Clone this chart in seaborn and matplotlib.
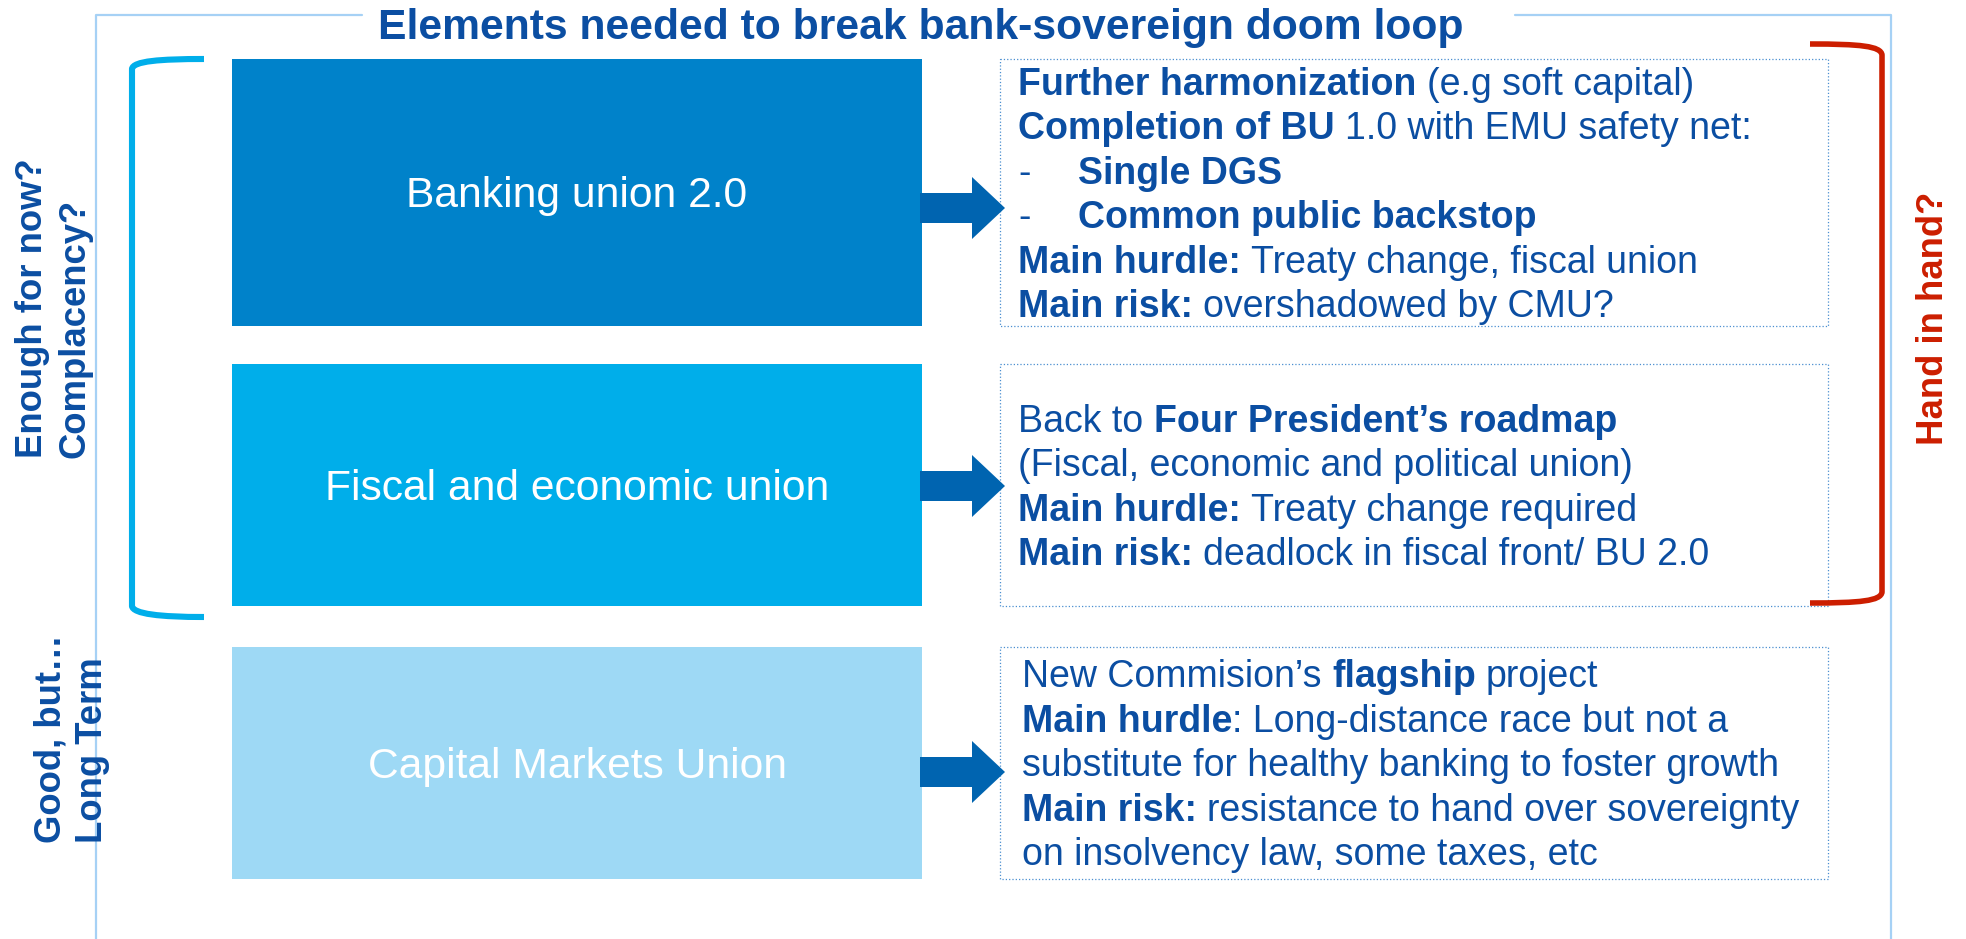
import matplotlib
matplotlib.use("Agg")
import matplotlib.pyplot as plt
import matplotlib.patches as mpatches
from matplotlib.path import Path
import seaborn as sns

sns.set_theme(style="white")
plt.rcParams['font.family'] = ['Liberation Sans', 'DejaVu Sans']

###############################################################################
## content

title = "Elements needed to break bank-sovereign doom loop"
pillars = ["Banking union 2.0", "Fiscal and economic union", "Capital Markets Union"]
left_notes = [["Enough for now?", "Complacency?"], ["Good, but…", "Long Term"]]
right_note = "Hand in hand?"

# one list per line, (text, bold); leading space = word gap, "\t" = bullet indent
bu_lines = [
    [("Further harmonization", True), (" (e.g soft capital)", False)],
    [("Completion of BU", True), (" 1.0 with EMU safety net:", False)],
    [("-", False), ("\tSingle DGS", True)],
    [("-", False), ("\tCommon public backstop", True)],
    [("Main hurdle:", True), (" Treaty change, fiscal union", False)],
    [("Main risk:", True), (" overshadowed by CMU?", False)],
]
fiscal_lines = [
    [("Back to", False), (" Four President’s roadmap", True)],
    [("(Fiscal, economic and political union)", False)],
    [("Main hurdle:", True), (" Treaty change required", False)],
    [("Main risk:", True), (" deadlock in fiscal front/ BU 2.0", False)],
]
cmu_lines = [
    [("New Commision’s", False), (" flagship", True), (" project", False)],
    [("Main hurdle", True), (": Long-distance race but not a", False)],
    [("substitute for healthy banking to foster growth", False)],
    [("Main risk:", True), (" resistance to hand over sovereignty", False)],
    [("on insolvency law, some taxes, etc", False)],
]
details = [bu_lines, fiscal_lines, cmu_lines]

###############################################################################
## styles / layout (pixel coords, y down)

DARK = '#0b4ea2'
box_colors = ['#0082ca', '#00aeea', '#9ed9f5']
ARROW = '#0064b0'
CYAN = '#00aeea'
RED = '#cc1e00'
FRAME = '#a6d1f5'

rows = [(59, 326), (364, 606), (647, 879)]
arrow_y = [208, 486, 772]
text_x = [1018, 1018, 1022]
LINE = 44.5
FS = 27

fig = plt.figure(figsize=(19.66, 9.39), dpi=100)
ax = fig.add_axes([0, 0, 1, 1])
ax.set_xlim(0, 1966)
ax.set_ylim(939, 0)
ax.axis('off')

# outer frame (broken by the title)
ax.plot([362, 96, 96], [15, 15, 939], color=FRAME, lw=1.6, zorder=1)
ax.plot([1515, 1891, 1891], [15, 15, 939], color=FRAME, lw=1.6, zorder=1)

ax.text(921, 39, title, ha='center', va='baseline', fontsize=30.7,
        fontweight='bold', color=DARK)


def draw_line(x, y, segs, indent):
    prev = None
    for text, bold in segs:
        w = 'bold' if bold else 'normal'
        if text.startswith('\t'):
            prev = ax.text(indent, y, text[1:], fontsize=FS, fontweight=w,
                           color=DARK, va='baseline', ha='left')
        elif prev is None:
            prev = ax.text(x, y, text, fontsize=FS, fontweight=w,
                           color=DARK, va='baseline', ha='left')
        else:
            gap = 0.278 * FS if text.startswith(' ') else 0
            prev = ax.annotate(text.lstrip(' '), xy=(1, 0), xycoords=prev,
                               xytext=(gap, 0), textcoords='offset points',
                               fontsize=FS, fontweight=w, color=DARK,
                               va='bottom', ha='left')


for i, (top, bot) in enumerate(rows):
    # coloured pillar box
    ax.add_patch(mpatches.Rectangle((232, top), 690, bot - top,
                                    facecolor=box_colors[i], edgecolor='none', zorder=2))
    ax.text(577, (top + bot) / 2 + 4, pillars[i], ha='center', va='center',
            fontsize=30.7, color='white', zorder=3)
    # detail box
    ax.add_patch(mpatches.Rectangle((1000, top), 828, bot - top, fill=False,
                                    edgecolor='#4a8fd0', lw=0.9, ls=':', zorder=2))
    lines = details[i]
    c = (top + bot) / 2
    b1 = c - ((len(lines) - 1) * LINE - 26.8) / 2
    for k, segs in enumerate(lines):
        draw_line(text_x[i], b1 + k * LINE, segs, 1078)
    # arrow
    ay = arrow_y[i]
    pts = [(920, ay - 15), (972, ay - 15), (972, ay - 31), (1005, ay),
           (972, ay + 31), (972, ay + 15), (920, ay + 15)]
    ax.add_patch(mpatches.Polygon(pts, closed=True, facecolor=ARROW,
                                  edgecolor='none', zorder=4))

# left bracket (cyan)
lb = Path([(204, 59), (160, 59), (133, 61), (132, 69), (132, 606),
           (133, 614), (160, 617), (204, 617)],
          [Path.MOVETO, Path.CURVE4, Path.CURVE4, Path.CURVE4, Path.LINETO,
           Path.CURVE4, Path.CURVE4, Path.CURVE4])
ax.add_patch(mpatches.PathPatch(lb, fill=False, edgecolor=CYAN, lw=4.4,
                                capstyle='butt', zorder=3))

# right bracket (red)
rb = Path([(1810, 44), (1860, 44), (1881, 46), (1882, 55), (1882, 592),
           (1881, 601), (1860, 603), (1810, 603)],
          [Path.MOVETO, Path.CURVE4, Path.CURVE4, Path.CURVE4, Path.LINETO,
           Path.CURVE4, Path.CURVE4, Path.CURVE4])
ax.add_patch(mpatches.PathPatch(rb, fill=False, edgecolor=RED, lw=4.0,
                                capstyle='butt', zorder=3))

# rotated side notes
note_pos = [[(42, 458), (85, 458)], [(60, 843), (102, 843)]]
for note, pos in zip(left_notes, note_pos):
    for s, (x, y) in zip(note, pos):
        ax.text(x, y, s, rotation=90, rotation_mode='anchor', ha='left',
                va='baseline', fontsize=26.3, fontweight='bold', color=DARK, zorder=5)

ax.text(1943, 445, right_note, rotation=90, rotation_mode='anchor', ha='left',
        va='baseline', fontsize=26.3, fontweight='bold', color=RED, zorder=5)

fig.savefig('out.png', dpi=100, facecolor='white')
